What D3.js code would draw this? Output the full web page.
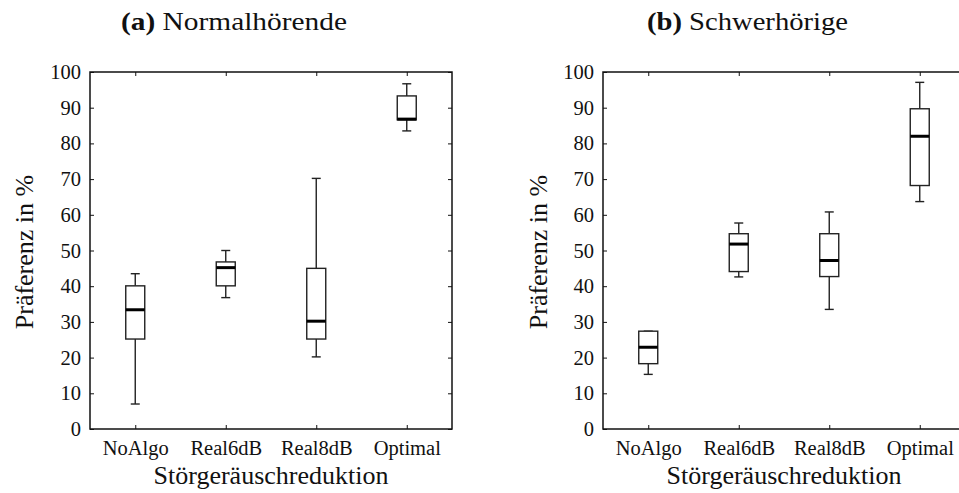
<!DOCTYPE html>
<html>
<head>
<meta charset="utf-8">
<script src="https://cdn.jsdelivr.net/npm/d3@7"></script>
<style>
  body { margin: 0; background: #fff; }
  svg text { font-family: "Liberation Serif", "Times New Roman", serif; fill: #111; }
</style>
</head>
<body>
<script>
// categories and tick values
const categories = ["NoAlgo", "Real6dB", "Real8dB", "Optimal"];
const yTicks = [0, 10, 20, 30, 40, 50, 60, 70, 80, 90, 100];

// (a) Normalhörende: whisker low, q1, median, q3, whisker high
const nhLow  = [7.0, 36.8, 20.2, 83.5];
const nhQ1   = [25.2, 40.1, 25.2, 86.6];
const nhMed  = [33.4, 45.2, 30.2, 86.8];
const nhQ3   = [40.1, 46.8, 45.0, 93.3];
const nhHigh = [43.5, 50.0, 70.2, 96.7];

// (b) Schwerhörige
const shLow  = [15.3, 42.6, 33.5, 63.7];
const shQ1   = [18.3, 44.1, 42.7, 68.2];
const shMed  = [22.9, 51.8, 47.2, 82.0];
const shQ3   = [27.4, 54.7, 54.7, 89.7];
const shHigh = [27.4, 57.7, 60.8, 97.1];

const W = 959, H = 493;
const plotW = 362, plotH = 357, plotTop = 72;
const serif = "'Liberation Serif', 'Times New Roman', serif";

const svg = d3.select("body").append("svg")
    .attr("width", W)
    .attr("height", H);

function toRows(low, q1, med, q3, high) {
    return categories.map((c, i) => ({cat: c, low: low[i], q1: q1[i], med: med[i], q3: q3[i], high: high[i]}));
}

const panels = [
    {left: 90, tag: "(a)", title: " Normalhörende", titleX: 121, titleLen: 226, labelX: 33,
     rows: toRows(nhLow, nhQ1, nhMed, nhQ3, nhHigh)},
    {left: 603, tag: "(b)", title: " Schwerhörige", titleX: 647, titleLen: 201, labelX: 547,
     rows: toRows(shLow, shQ1, shMed, shQ3, shHigh)}
];

const y = d3.scaleLinear().domain([0, 100]).range([plotH, 0]);
const x = d3.scalePoint().domain(categories).range([0, plotW]).padding(0.5);

const boxW = 19, capW = 9;

panels.forEach(p => {
    // title
    const t = svg.append("text")
        .attr("x", p.titleX)
        .attr("y", 30)
        .style("font-family", serif)
        .style("font-size", "26px")
        .attr("textLength", p.titleLen)
        .attr("lengthAdjust", "spacingAndGlyphs");
    t.append("tspan").attr("font-weight", "bold").text(p.tag);
    t.append("tspan").text(p.title);

    const g = svg.append("g").attr("transform", `translate(${p.left},${plotTop})`);

    // axes, ticks pointing inward
    const yl = g.append("g")
        .call(d3.axisLeft(y).tickValues(yTicks).tickSizeInner(-4).tickSizeOuter(0).tickPadding(9));
    const yr = g.append("g").attr("transform", `translate(${plotW},0)`)
        .call(d3.axisRight(y).tickValues(yTicks).tickSizeInner(-4).tickSizeOuter(0).tickFormat(""));
    const xb = g.append("g").attr("transform", `translate(0,${plotH})`)
        .call(d3.axisBottom(x).tickSizeInner(-4).tickSizeOuter(0));
    const xt = g.append("g")
        .call(d3.axisTop(x).tickSizeInner(-4).tickSizeOuter(0).tickFormat(""));

    [yl, yr, xb, xt].forEach(a => {
        a.select(".domain").remove();
        a.selectAll(".tick line").attr("stroke", "#111").attr("stroke-width", 1);
    });
    yl.selectAll("text").style("font-family", serif).style("font-size", "20.5px").attr("fill", "#111");
    xb.selectAll("text").style("font-family", serif).style("font-size", "20.5px").attr("fill", "#111")
        .attr("dy", "0").attr("y", 26);

    // frame
    g.append("rect")
        .attr("width", plotW).attr("height", plotH)
        .attr("fill", "none").attr("stroke", "#111").attr("stroke-width", 1.5);

    // boxes
    const b = g.selectAll(".box").data(p.rows).join("g")
        .attr("class", "box")
        .attr("transform", d => `translate(${x(d.cat)},0)`);

    b.append("line")
        .attr("y1", d => y(d.high)).attr("y2", d => y(d.q3))
        .attr("stroke", "#222").attr("stroke-width", 1.4);
    b.append("line")
        .attr("y1", d => y(d.q1)).attr("y2", d => y(d.low))
        .attr("stroke", "#222").attr("stroke-width", 1.4);
    b.append("line")
        .attr("x1", -capW / 2).attr("x2", capW / 2)
        .attr("y1", d => y(d.high)).attr("y2", d => y(d.high))
        .attr("stroke", "#222").attr("stroke-width", 1.4);
    b.append("line")
        .attr("x1", -capW / 2).attr("x2", capW / 2)
        .attr("y1", d => y(d.low)).attr("y2", d => y(d.low))
        .attr("stroke", "#222").attr("stroke-width", 1.4);
    b.append("rect")
        .attr("x", -boxW / 2).attr("width", boxW)
        .attr("y", d => y(d.q3)).attr("height", d => y(d.q1) - y(d.q3))
        .attr("fill", "#fff").attr("stroke", "#222").attr("stroke-width", 1.4);
    b.append("line")
        .attr("x1", -boxW / 2).attr("x2", boxW / 2)
        .attr("y1", d => y(d.med)).attr("y2", d => y(d.med))
        .attr("stroke", "#000").attr("stroke-width", 3);

    // axis labels
    svg.append("text")
        .attr("x", p.left + plotW / 2)
        .attr("y", 484)
        .attr("text-anchor", "middle")
        .style("font-family", serif)
        .style("font-size", "26px")
        .text("Störgeräuschreduktion");
    svg.append("text")
        .attr("transform", `translate(${p.labelX},252) rotate(-90)`)
        .attr("text-anchor", "middle")
        .style("font-family", serif)
        .style("font-size", "26px")
        .text("Präferenz in %");
});
</script>
</body>
</html>
